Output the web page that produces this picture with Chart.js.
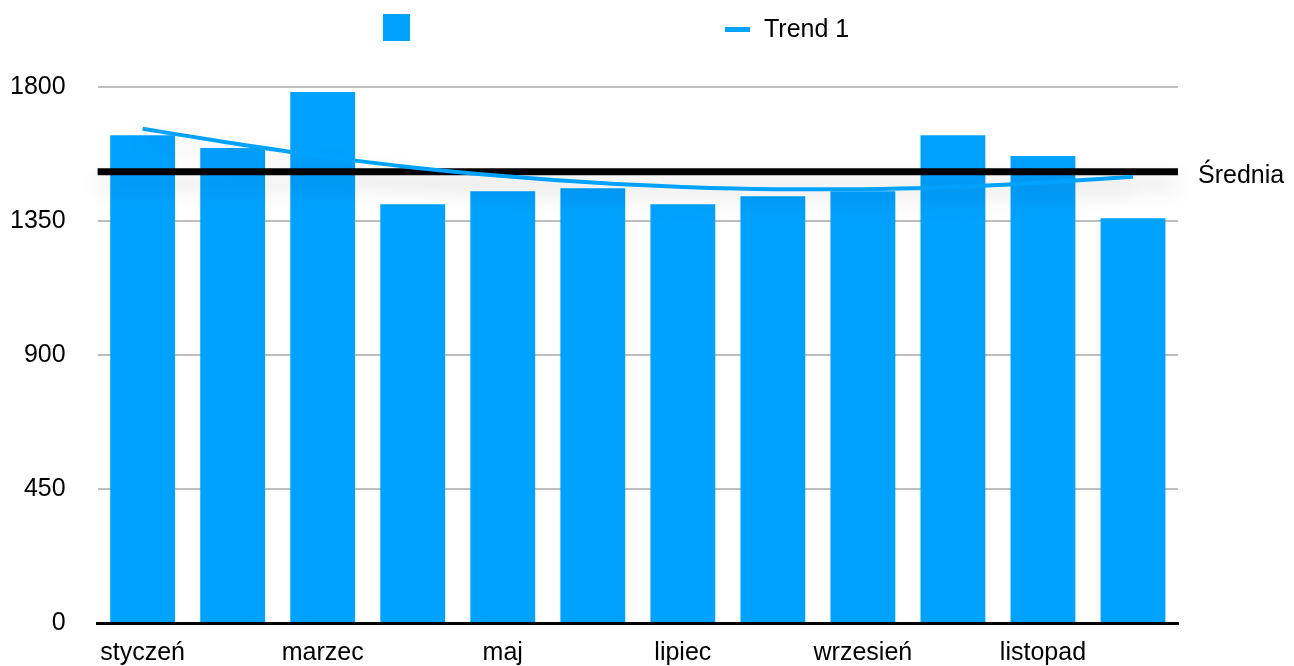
<!DOCTYPE html>
<html>
<head>
<meta charset="utf-8">
<script src="https://cdn.jsdelivr.net/npm/chart.js@4/dist/chart.umd.min.js"></script>
<style>
  html, body { margin: 0; padding: 0; background: #fff; }
  #wrap { width: 1294px; height: 666px; position: relative; }
</style>
</head>
<body>
<div id="wrap"><canvas id="c"></canvas></div>
<script>
const months = ['styczeń','luty','marzec','kwiecień','maj','czerwiec','lipiec','sierpień','wrzesień','październik','listopad','grudzień'];
const values = [1638,1595,1783,1406,1450,1460,1406,1433,1450,1638,1568,1359];
const trendValues = [1660,1611,1567,1530,1501,1479,1464,1457,1457,1464,1479,1499];
const averageValue = 1515;
const yTicks = [0,450,900,1350,1800];
const seriesLabel = '';
const trendLabel = 'Trend 1';
const averageLabel = 'Średnia';

const BLUE = '#00A2FF';
const FONT = '"Liberation Sans", Arial, Helvetica, sans-serif';

const shadowPlugin = {
  id: 'shadowPlugin',
  beforeDatasetDraw(chart, args) {
    if (chart.data.datasets[args.index].type === 'line') {
      const ctx = chart.ctx;
      ctx.save();
      ctx.shadowColor = 'rgba(0,0,0,0.16)';
      ctx.shadowBlur = 22;
      ctx.shadowOffsetY = 12;
    }
  },
  afterDatasetDraw(chart, args) {
    const ctx = chart.ctx;
    if (chart.data.datasets[args.index].type === 'line') {
      ctx.restore();
    } else {
      const y = chart.scales.y.getPixelForValue(averageValue);
      const area = chart.chartArea;
      ctx.save();
      ctx.shadowColor = 'rgba(0,0,0,0.16)';
      ctx.shadowBlur = 22;
      ctx.shadowOffsetY = 12;
      ctx.strokeStyle = '#000';
      ctx.lineWidth = 7;
      ctx.beginPath();
      ctx.moveTo(area.left, y);
      ctx.lineTo(area.right, y);
      ctx.stroke();
      ctx.restore();
      ctx.save();
      ctx.fillStyle = '#000';
      ctx.font = '25px ' + FONT;
      ctx.textAlign = 'left';
      ctx.textBaseline = 'middle';
      ctx.fillText(averageLabel, area.right + 20, y + 4);
      ctx.restore();
    }
  }
};

const legendPlugin = {
  id: 'customLegend',
  afterDraw(chart) {
    const ctx = chart.ctx;
    ctx.save();
    ctx.fillStyle = BLUE;
    ctx.fillRect(383, 14, 27, 27);
    ctx.fillText(seriesLabel, 420, 28);
    ctx.fillRect(725, 27, 25, 5);
    ctx.fillStyle = '#000';
    ctx.font = '25px ' + FONT;
    ctx.textAlign = 'left';
    ctx.textBaseline = 'middle';
    ctx.fillText(trendLabel, 764, 30);
    ctx.restore();
  }
};

new Chart(document.getElementById('c'), {
  data: {
    labels: months,
    datasets: [
      {
        type: 'bar',
        label: seriesLabel,
        data: values,
        backgroundColor: BLUE,
        borderWidth: 0,
        categoryPercentage: 1,
        barPercentage: 0.72,
        order: 1
      },
      {
        type: 'line',
        label: trendLabel,
        data: trendValues,
        borderColor: BLUE,
        borderWidth: 4,
        pointRadius: 0,
        fill: false,
        cubicInterpolationMode: 'monotone',
        order: 0
      }
    ]
  },
  options: {
    responsive: true,
    maintainAspectRatio: false,
    animation: false,
    devicePixelRatio: 1,
    layout: { padding: { top: 87, right: 116, bottom: 0, left: -22 } },
    plugins: {
      legend: { display: false },
      tooltip: { enabled: false }
    },
    scales: {
      x: {
        grid: { display: false, drawTicks: false },
        border: { display: true, color: '#000', width: 3 },
        afterFit: function(axis) { axis.height = 43; },
        ticks: {
          autoSkip: false,
          maxRotation: 0,
          padding: 15,
          color: '#000',
          font: { family: FONT, size: 25 },
          callback: function(v, i) { return i % 2 === 0 ? months[i] : ''; }
        }
      },
      y: {
        min: yTicks[0],
        max: yTicks[yTicks.length - 1],
        afterBuildTicks: function(axis) { axis.ticks = yTicks.map(v => ({ value: v })); },
        afterFit: function(axis) { axis.paddingBottom = 15; },
        grid: {
          drawTicks: false,
          lineWidth: 2,
          color: function(c) { return c.tick && c.tick.value === 0 ? 'rgba(0,0,0,0)' : '#bdbdbd'; }
        },
        border: { display: false },
        ticks: {
          padding: 32,
          color: '#000',
          font: { family: FONT, size: 25 },
          callback: function(v) { return String(v); }
        }
      }
    }
  },
  plugins: [shadowPlugin, legendPlugin]
});
</script>
</body>
</html>
